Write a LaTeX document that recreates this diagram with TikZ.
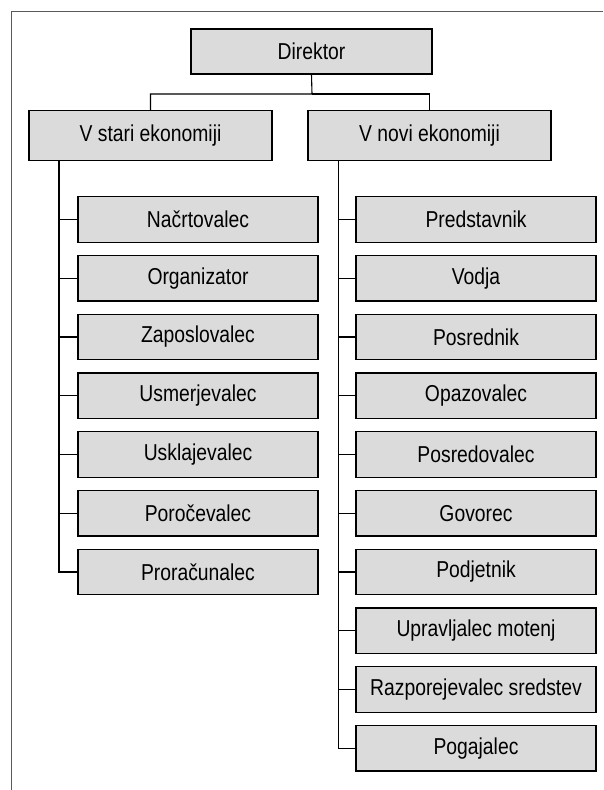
\documentclass[tikz,border=0pt]{standalone}
\usepackage{fontspec}
\setmainfont[FakeStretch=0.84]{Liberation Sans}
\begin{document}
\begin{tikzpicture}[x=1pt,y=-1pt,
  box/.style={draw=black, line width=1.3pt, fill=black!14, inner sep=0pt,
    font=\fontsize{23}{26}\selectfont},
  topbox/.style={box, minimum width=241pt, minimum height=45pt},
  midbox/.style={box, minimum width=243pt, minimum height=50pt},
  childbox/.style={box, minimum width=240pt, minimum height=45.5pt},
  conn/.style={draw=black, line width=1.1pt},
  frameline/.style={draw=black!65, line width=0.9pt}]
\useasboundingbox (0,0) rectangle (603,790);
\draw[frameline] (11,790) -- (11,11) -- (603,11);

\node[topbox] (dir) at (311.5,51.5) {Direktor};
\node[midbox] (L) at (150.5,135.6) {V stari ekonomiji};
\node[midbox] (R) at (429.5,135.6) {V novi ekonomiji};

\coordinate (bar) at (312,94);
\draw[conn] (dir.south) -- (bar) -| (L.north);
\draw[conn] (bar) -| (R.north);

\coordinate (lt) at (59,160.7);
\coordinate (rt) at (338.5,160.7);

\foreach \t [count=\i] in {Načrtovalec, Organizator, Zaposlovalec, Usmerjevalec, Usklajevalec, Poročevalec, Proračunalec}{
  \node[childbox] (l\i) at (198,{219.5+(\i-1)*58.75}) {\t};
  \draw[conn] (lt) |- (l\i.west);
}
\foreach \t [count=\i] in {Predstavnik, Vodja, Posrednik, Opazovalec, Posredovalec, Govorec, Podjetnik, Upravljalec motenj, Razporejevalec sredstev, Pogajalec}{
  \node[childbox] (r\i) at (476,{219.5+(\i-1)*58.75}) {\t};
  \draw[conn] (rt) |- (r\i.west);
}
\end{tikzpicture}
\end{document}
